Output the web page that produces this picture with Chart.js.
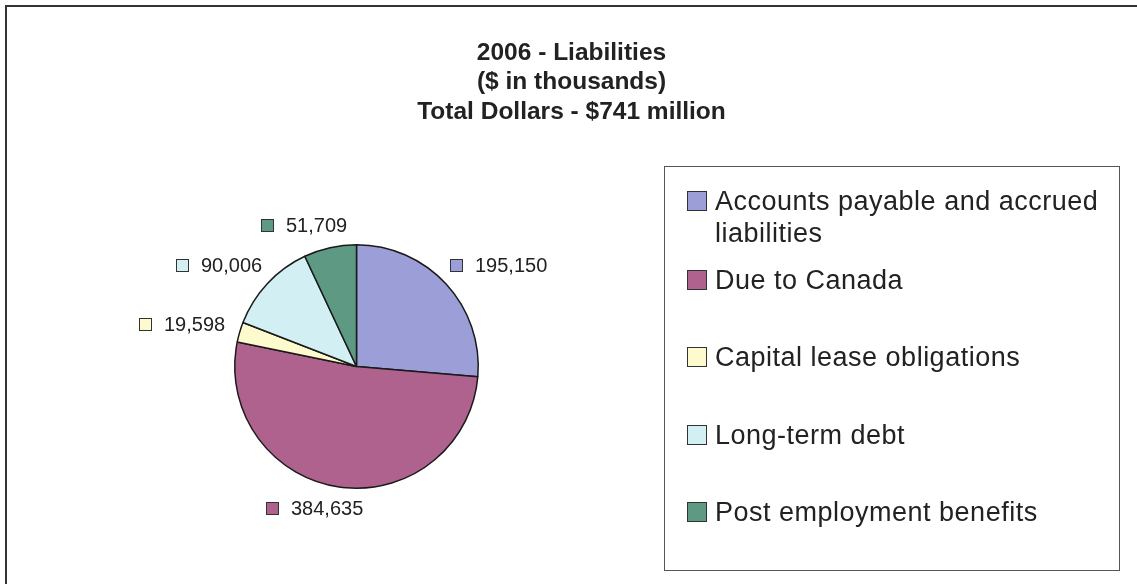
<!DOCTYPE html>
<html>
<head>
<meta charset="utf-8">
<script src="https://cdn.jsdelivr.net/npm/chart.js@4/dist/chart.umd.min.js"></script>
<style>
  html, body { margin: 0; padding: 0; background: #fff; }
  #wrap { position: relative; width: 1137px; height: 584px; overflow: hidden; }
  #frame { position: absolute; left: 5px; top: 5px; width: 1200px; height: 700px;
           border-top: 2px solid #333; border-left: 2px solid #333; }
  canvas { position: absolute; left: 0; top: 0; }
  #legend { position: absolute; left: 664px; top: 166px; width: 456px; height: 405px;
            border: 1px solid #555; box-sizing: border-box;
            font-family: "Liberation Sans", Arial, sans-serif; font-size: 27px;
            color: #222; letter-spacing: 0.5px; }
  #legend .item { position: absolute; left: 50px; line-height: 32px; width: 400px; }
  #legend .sw { position: absolute; left: -28px; top: 6px; width: 18px; height: 18px;
                border: 1px solid #333; }
</style>
</head>
<body>
<div id="wrap">
  <div id="frame"></div>
  <canvas id="pie" width="1137" height="584"></canvas>
  <div id="legend"></div>
</div>
<script>
// 2006 liabilities, $ thousands
const categories = ['Accounts payable and accrued liabilities', 'Due to Canada',
  'Capital lease obligations', 'Long-term debt', 'Post employment benefits'];
const amounts = [195150, 384635, 19598, 90006, 51709];
const sliceColors = ['#9c9ed8', '#b0628f', '#fdfacd', '#d2f0f4', '#5e9a83'];
const titleLines = ['2006 - Liabilities', '($ in thousands)', 'Total Dollars - $741 million'];

const FONT = '"Liberation Sans", Arial, sans-serif';

// three-line heading centred across the whole canvas (the pie sits off to the left)
const pageTitle = {
  id: 'pageTitle',
  afterDraw(chart) {
    const ctx = chart.ctx;
    ctx.save();
    ctx.font = 'bold 24.5px ' + FONT;
    ctx.fillStyle = '#222';
    ctx.textAlign = 'center';
    ctx.textBaseline = 'middle';
    titleLines.forEach((line, i) => ctx.fillText(line, chart.width / 2 + 3, 53 + i * 29.5));
    ctx.restore();
  }
};

// value labels with a small colour key, set just outside each slice
const sliceLabels = {
  id: 'sliceLabels',
  afterDatasetsDraw(chart) {
    const ctx = chart.ctx;
    const meta = chart.getDatasetMeta(0);
    ctx.save();
    ctx.font = '20px ' + FONT;
    ctx.textBaseline = 'middle';
    meta.data.forEach((arc, i) => {
      const p = arc.getProps(['x', 'y', 'startAngle', 'endAngle', 'outerRadius'], true);
      const mid = (p.startAngle + p.endAngle) / 2;
      const dx = Math.cos(mid), dy = Math.sin(mid);
      const text = amounts[i].toLocaleString('en-US');
      const w = 13 + 12 + ctx.measureText(text).width;
      const h = 18;
      const dist = p.outerRadius + 12 + 8 * Math.abs(dx);
      const ax = p.x + dist * dx, ay = p.y + dist * dy;
      const cx = ax + (w / 2) * 0.9 * Math.cbrt(dx);
      const cy = ay + (h / 2) * dy;
      const left = Math.round(cx - w / 2);
      const top = Math.round(cy - 6.5);
      ctx.fillStyle = sliceColors[i];
      ctx.fillRect(left, top, 13, 13);
      ctx.strokeStyle = '#333';
      ctx.lineWidth = 1;
      ctx.strokeRect(left + 0.5, top + 0.5, 12, 12);
      ctx.fillStyle = '#222';
      ctx.fillText(text, left + 25, cy + 1);
    });
    ctx.restore();
  }
};

new Chart(document.getElementById('pie'), {
  type: 'pie',
  data: {
    labels: categories,
    datasets: [{
      data: amounts,
      backgroundColor: sliceColors,
      borderColor: '#1a1a1a',
      borderWidth: 1.5
    }]
  },
  options: {
    responsive: false,
    animation: false,
    layout: { padding: { left: 234, right: 658, top: 244, bottom: 95 } },
    plugins: {
      legend: { display: false },
      tooltip: { enabled: false },
      title: { display: false }
    }
  },
  plugins: [sliceLabels, pageTitle]
});

// legend box
const legendTops = [185, 264, 341, 419, 496];
const legend = document.getElementById('legend');
categories.forEach((name, i) => {
  const item = document.createElement('div');
  item.className = 'item';
  item.style.top = (legendTops[i] - 167) + 'px';
  item.innerHTML = '<span class="sw" style="background:' + sliceColors[i] + '"></span>' +
    (i === 0 ? 'Accounts payable and accrued<br>liabilities' : name);
  legend.appendChild(item);
});
</script>
</body>
</html>
